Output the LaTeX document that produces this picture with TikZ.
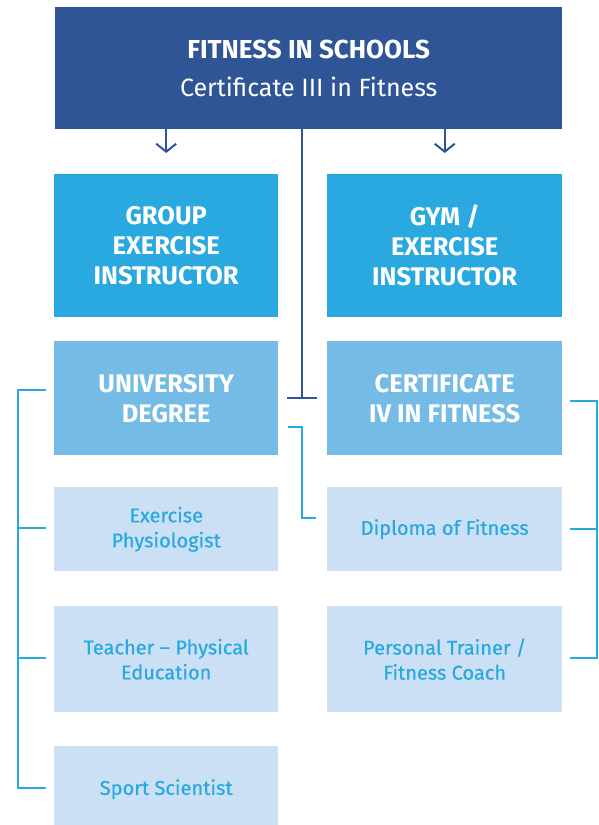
\documentclass[tikz,border=0pt]{standalone}
\usepackage{fontspec}
\setmainfont{Fira Sans}
\usetikzlibrary{arrows.meta}
\definecolor{navy}{HTML}{2F5597}
\definecolor{sky}{HTML}{29A9E0}
\definecolor{midblue}{HTML}{74BBE6}
\definecolor{pale}{HTML}{CBE0F4}
\begin{document}
\begin{tikzpicture}[x=1pt,y=-1pt,
  box/.style={rectangle, inner sep=0pt, anchor=north west, align=center},
  headbox/.style={box, fill=navy, text=white, font=\fontsize{26}{38}\selectfont},
  mainbox/.style={box, fill=sky, text=white, font=\fontsize{25.5}{30}\selectfont\bfseries},
  degbox/.style={box, fill=midblue, text=white, font=\fontsize{25.5}{30}\selectfont\bfseries},
  jobbox/.style={box, fill=pale, text=sky, font=\fontsize{20}{25}\selectfont\addfontfeatures{FakeBold=0.6}},
  darkline/.style={draw=navy, line width=2pt},
  lightline/.style={draw=sky, line width=2.4pt},
  downarrow/.style={darkline, -{Straight Barb[length=8pt,width=20pt,line width=2pt]}}
]
\useasboundingbox (0,0) rectangle (598,825);

% top heading
\node[headbox, minimum width=507pt, minimum height=122pt] (top) at (55,7)
  {\textbf{FITNESS IN SCHOOLS}\\
   {\fontsize{25}{38}\selectfont Certificate III in Fitness}};

% first pathway row
\node[mainbox, minimum width=224pt, minimum height=143pt] (group) at (54,174)
  {GROUP\\EXERCISE\\INSTRUCTOR};
\node[mainbox, minimum width=235pt, minimum height=143pt] (gym) at (327,174)
  {GYM /\\EXERCISE\\INSTRUCTOR};

% qualifications
\node[degbox, minimum width=224pt, minimum height=114pt] (uni) at (54,341)
  {UNIVERSITY\\DEGREE};
\node[degbox, minimum width=235pt, minimum height=114pt] (cert) at (327,341)
  {CERTIFICATE\\IV IN FITNESS};

% career outcomes (the last box runs past the lower edge)
\node[jobbox, minimum width=224pt, minimum height=84pt] (phys) at (54,487)
  {Exercise\\Physiologist};
\node[jobbox, minimum width=224pt, minimum height=106pt] (teach) at (54,606)
  {Teacher -- Physical\\Education};
\node[jobbox, minimum width=224pt, minimum height=86pt] (sport) at (54,746)
  {Sport Scientist};
\node[jobbox, minimum width=235pt, minimum height=84pt] (dip) at (327,487)
  {Diploma of Fitness};
\node[jobbox, minimum width=235pt, minimum height=106pt] (pt) at (327,606)
  {Personal Trainer /\\Fitness Coach};

% arrows from the heading
\draw[downarrow, shorten >=21pt] (top.south -| group) -- (group.north);
\draw[downarrow, shorten >=21pt] (top.south -| gym) -- (gym.north);

% central stem with its end bar
\coordinate (stem) at (302,398);
\draw[darkline] (top.south -| stem) -- (stem);
\draw[darkline] ([xshift=-15pt]stem) -- ([xshift=15pt]stem);

% link from the degree across to the diploma
\coordinate (linkA) at (288,427);
\coordinate (linkB) at (316,518);
\draw[lightline] (linkA) -- (linkA -| stem) -- (linkB -| stem) -- (linkB);

% left bracket
\coordinate (lb1) at (46,390);
\coordinate (lb2) at (46,528);
\coordinate (lb3) at (46,658);
\coordinate (lb4) at (46,788);
\draw[lightline] (lb1) -- ++(-28,0) |- (lb4);
\draw[lightline] (lb2) -- ++(-28,0);
\draw[lightline] (lb3) -- ++(-28,0);

% right bracket
\coordinate (rb1) at (570,401);
\coordinate (rb2) at (570,529);
\coordinate (rb3) at (570,658);
\draw[lightline] (rb1) -- ++(27,0) |- (rb3);
\draw[lightline] (rb2) -- ++(27,0);
\end{tikzpicture}
\end{document}
